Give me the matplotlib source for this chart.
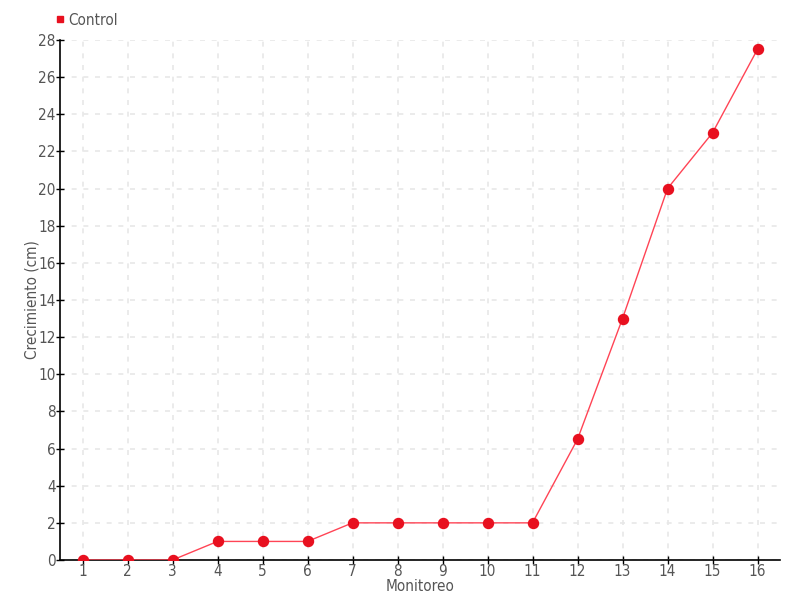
import matplotlib
matplotlib.use('Agg')
import matplotlib.pyplot as plt
from matplotlib.lines import Line2D

# datos
monitoreo = list(range(1, 17))
control = [0, 0, 0, 1, 1, 1, 2, 2, 2, 2, 2, 6.5, 13, 20, 23, 27.5]
y_ticks = list(range(0, 29, 2))

plt.rcParams['font.family'] = ['DejaVu Sans']
plt.rcParams['font.stretch'] = 'condensed'
txt = '#555555'

fig = plt.figure(figsize=(8, 6), dpi=100)
ax = fig.add_axes([60/800, 40/600, 720/800, 520/600])

ax.plot(monitoreo, control, color='#ff4455', lw=1, zorder=3)
ax.plot(monitoreo, control, 'o', color='#e8101f', ms=7.2, zorder=4)

ax.set_xlim(0.5, 16.5)
ax.set_ylim(0, 28)
ax.set_xticks(monitoreo)
ax.set_yticks(y_ticks)
ax.grid(True, color='#e8e8e8', ls=(0, (3, 4)), lw=1.2)
ax.set_axisbelow(True)
for s in ['top', 'right']:
    ax.spines[s].set_visible(False)
for s in ['left', 'bottom']:
    ax.spines[s].set_linewidth(1.2)
ax.tick_params(direction='inout', length=6, width=1, labelsize=11, labelcolor=txt, pad=0)

ax.set_xlabel('Monitoreo', fontsize=11, color=txt, labelpad=0)
ax.set_ylabel('Crecimiento (cm)', fontsize=11, color=txt, labelpad=-1)

handle = Line2D([], [], marker='s', ls='none', color='#e8101f', ms=5)
leg = ax.legend([handle], ['Control'], loc='lower left', bbox_to_anchor=(-0.025, 1.0),
                frameon=False, fontsize=11, handletextpad=0.1, borderaxespad=0.4,
                handlelength=0.8)
for t in leg.get_texts():
    t.set_color(txt)

fig.savefig('out.png', dpi=100)
